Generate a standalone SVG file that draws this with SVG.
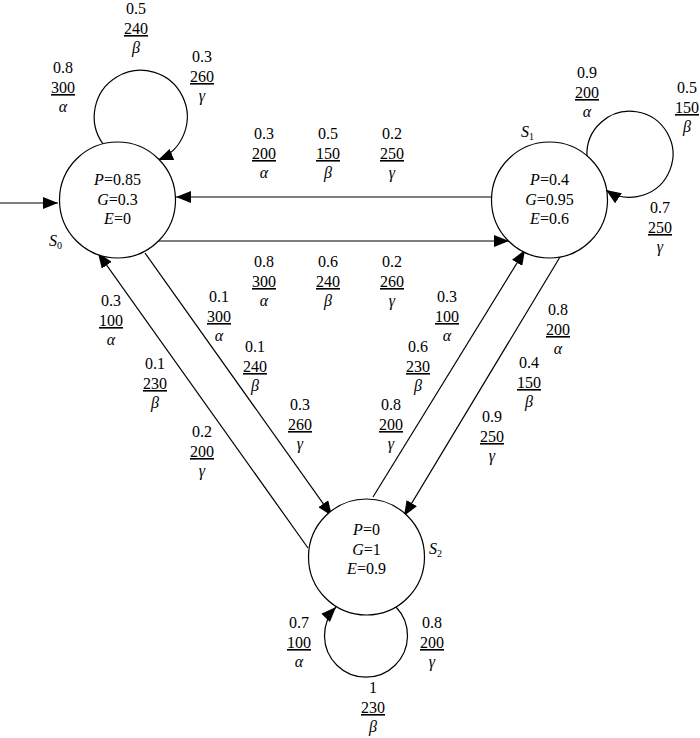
<svg xmlns="http://www.w3.org/2000/svg" width="700" height="738" viewBox="0 0 700 738">
<style>
text{font-family:"Liberation Serif","Times New Roman",serif;font-size:16px;fill:#000;text-anchor:middle}
.i{font-style:italic}
.u{text-decoration:underline}
.st{text-anchor:start}
.sub{font-size:10px;font-style:normal}
circle.n{fill:#fff;stroke:#000;stroke-width:1.2}
.e{fill:none;stroke:#000;stroke-width:1.2}
</style>
<defs>
<marker id="ah" markerUnits="userSpaceOnUse" markerWidth="16" markerHeight="12" refX="15" refY="6" orient="auto">
<path d="M0,0 L15,6 L0,12 z" fill="#000"/>
</marker>
</defs>
<g id="connectors">
<line class="e" x1="0" y1="203" x2="58" y2="203" marker-end="url(#ah)"/>
<line class="e" x1="491" y1="197" x2="176" y2="197" marker-end="url(#ah)"/>
<line class="e" x1="158" y1="241" x2="509" y2="241" marker-end="url(#ah)"/>
<line class="e" x1="145" y1="253" x2="332" y2="516" marker-end="url(#ah)"/>
<line class="e" x1="308" y1="548" x2="98" y2="253" marker-end="url(#ah)"/>
<line class="e" x1="373" y1="497" x2="525" y2="250" marker-end="url(#ah)"/>
<line class="e" x1="560" y1="257" x2="404" y2="516" marker-end="url(#ah)"/>
<path class="e" d="M103,144 A46.5,46.5 0 1,1 158,160" marker-end="url(#ah)"/>
<path class="e" d="M587,157 A43,43 0 1,1 606,190" marker-end="url(#ah)"/>
<path class="e" d="M396,607 A41.5,41.5 0 1,1 336,607" marker-end="url(#ah)"/>
</g>
<g id="S0">
<circle class="n" cx="117.5" cy="200" r="58"/>
<text x="117.5" y="185"><tspan class="i">P</tspan>=0.85</text>
<text x="117.5" y="205"><tspan class="i">G</tspan>=0.3</text>
<text x="117.5" y="224"><tspan class="i">E</tspan>=0</text>
<text class="st" x="49" y="246"><tspan class="i">S</tspan><tspan class="sub" dy="3">0</tspan></text>
</g>
<g id="S1">
<circle class="n" cx="549.5" cy="200" r="58"/>
<text x="549.5" y="185"><tspan class="i">P</tspan>=0.4</text>
<text x="549.5" y="205"><tspan class="i">G</tspan>=0.95</text>
<text x="549.5" y="224"><tspan class="i">E</tspan>=0.6</text>
<text class="st" x="521" y="137"><tspan class="i">S</tspan><tspan class="sub" dy="3">1</tspan></text>
</g>
<g id="S2">
<circle class="n" cx="366.5" cy="557" r="58"/>
<text x="366.5" y="535"><tspan class="i">P</tspan>=0</text>
<text x="366.5" y="555"><tspan class="i">G</tspan>=1</text>
<text x="366.5" y="574"><tspan class="i">E</tspan>=0.9</text>
<text class="st" x="429" y="554"><tspan class="i">S</tspan><tspan class="sub" dy="3">2</tspan></text>
</g>
<g id="labels">
<text x="136" y="14">0.5</text><text class="u" x="136" y="34">240</text><text class="i" x="136" y="53">β</text>
<text x="63" y="73">0.8</text><text class="u" x="63" y="93">300</text><text class="i" x="63" y="112">α</text>
<text x="202" y="62">0.3</text><text class="u" x="202" y="82">260</text><text class="i" x="202" y="101">γ</text>
<text x="264" y="139">0.3</text><text class="u" x="264" y="159">200</text><text class="i" x="264" y="178">α</text>
<text x="328" y="139">0.5</text><text class="u" x="328" y="159">150</text><text class="i" x="328" y="178">β</text>
<text x="392" y="139">0.2</text><text class="u" x="392" y="159">250</text><text class="i" x="392" y="178">γ</text>
<text x="264" y="267">0.8</text><text class="u" x="264" y="287">300</text><text class="i" x="264" y="306">α</text>
<text x="328" y="267">0.6</text><text class="u" x="328" y="287">240</text><text class="i" x="328" y="306">β</text>
<text x="392" y="267">0.2</text><text class="u" x="392" y="287">260</text><text class="i" x="392" y="306">γ</text>
<text x="219" y="302">0.1</text><text class="u" x="219" y="322">300</text><text class="i" x="219" y="341">α</text>
<text x="255" y="352">0.1</text><text class="u" x="255" y="372">240</text><text class="i" x="255" y="391">β</text>
<text x="300" y="410">0.3</text><text class="u" x="300" y="430">260</text><text class="i" x="300" y="449">γ</text>
<text x="111" y="306">0.3</text><text class="u" x="111" y="326">100</text><text class="i" x="111" y="345">α</text>
<text x="155" y="369">0.1</text><text class="u" x="155" y="389">230</text><text class="i" x="155" y="408">β</text>
<text x="202" y="437">0.2</text><text class="u" x="202" y="457">200</text><text class="i" x="202" y="476">γ</text>
<text x="447" y="302">0.3</text><text class="u" x="447" y="322">100</text><text class="i" x="447" y="341">α</text>
<text x="418" y="352">0.6</text><text class="u" x="418" y="372">230</text><text class="i" x="418" y="391">β</text>
<text x="391" y="410">0.8</text><text class="u" x="391" y="430">200</text><text class="i" x="391" y="449">γ</text>
<text x="558" y="315">0.8</text><text class="u" x="558" y="335">200</text><text class="i" x="558" y="354">α</text>
<text x="529" y="368">0.4</text><text class="u" x="529" y="388">150</text><text class="i" x="529" y="407">β</text>
<text x="492" y="422">0.9</text><text class="u" x="492" y="442">250</text><text class="i" x="492" y="461">γ</text>
<text x="587" y="78">0.9</text><text class="u" x="587" y="98">200</text><text class="i" x="587" y="117">α</text>
<text x="687" y="93">0.5</text><text class="u" x="687" y="113">150</text><text class="i" x="687" y="132">β</text>
<text x="660" y="213">0.7</text><text class="u" x="660" y="233">250</text><text class="i" x="660" y="252">γ</text>
<text x="299" y="628">0.7</text><text class="u" x="299" y="648">100</text><text class="i" x="299" y="667">α</text>
<text x="432" y="628">0.8</text><text class="u" x="432" y="648">200</text><text class="i" x="432" y="667">γ</text>
<text x="373" y="693">1</text><text class="u" x="373" y="713">230</text><text class="i" x="373" y="732">β</text>
</g>
</svg>
